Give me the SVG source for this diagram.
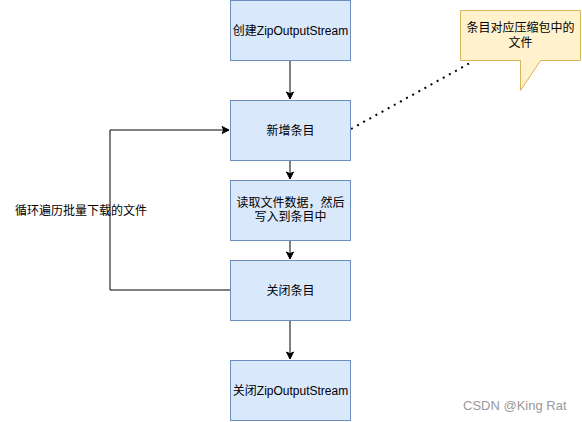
<svg xmlns="http://www.w3.org/2000/svg" width="582" height="422" viewBox="0 0 582 422">
<style>
.box{fill:#dae8fc;stroke:#6c8ebf;stroke-width:1}
.note{fill:#fff2cc;stroke:#d6b656;stroke-width:1}
.t{font-family:"Liberation Sans","Noto Sans CJK SC",sans-serif;font-size:12px;fill:#000;text-anchor:middle}
.lbl{font-family:"Liberation Sans","Noto Sans CJK SC",sans-serif;font-size:12px;fill:#000}
.edge{fill:none;stroke:#000;stroke-width:1}
.wm{font-family:"Liberation Sans","Noto Sans CJK SC",sans-serif;font-size:13px;fill:#999}
</style>
<defs>
<marker id="arr" markerUnits="userSpaceOnUse" markerWidth="10" markerHeight="10" viewBox="-8 -5 10 10" refX="0" refY="0" orient="auto">
<path d="M-7,-3.5 L0,0 L-7,3.5 L-5.25,0 Z" fill="#000" stroke="#000" stroke-width="1"/>
</marker>
</defs>
<rect width="582" height="422" fill="#fff"/>
<g id="connectors">
<path class="edge" d="M290,60 L290,99" marker-end="url(#arr)"/>
<path class="edge" d="M290,160 L290,179" marker-end="url(#arr)"/>
<path class="edge" d="M290,240 L290,259" marker-end="url(#arr)"/>
<path class="edge" d="M290,320 L290,359" marker-end="url(#arr)"/>
<path class="edge" d="M230,290 L110,290 L110,130 L229,130" marker-end="url(#arr)"/>
<path d="M351,129 L470,63" fill="none" stroke="#000" stroke-width="2" stroke-dasharray="2 5"/>
</g>
<g id="loop-label">
<text class="lbl" x="15" y="215">循环遍历批量下载的文件</text>
</g>
<g id="n1">
<rect class="box" x="230.5" y="0.5" width="120" height="60"/>
<text class="t" x="290.5" y="35">创建ZipOutputStream</text>
</g>
<g id="n2">
<rect class="box" x="230.5" y="100.5" width="120" height="60"/>
<text class="t" x="290.5" y="135">新增条目</text>
</g>
<g id="n3">
<rect class="box" x="230.5" y="180.5" width="120" height="60"/>
<text class="t" x="290.5" y="207">读取文件数据，然后</text>
<text class="t" x="290.5" y="221">写入到条目中</text>
</g>
<g id="n4">
<rect class="box" x="230.5" y="260.5" width="120" height="60"/>
<text class="t" x="290.5" y="295">关闭条目</text>
</g>
<g id="n5">
<rect class="box" x="230.5" y="360.5" width="120" height="60"/>
<text class="t" x="290.5" y="395">关闭ZipOutputStream</text>
</g>
<g id="callout">
<path class="note" d="M460.5,10.5 L580.5,10.5 L580.5,60.5 L540.5,60.5 L520.5,90.5 L520.5,60.5 L460.5,60.5 Z"/>
<text class="t" x="520.5" y="32">条目对应压缩包中的</text>
<text class="t" x="520.5" y="47">文件</text>
</g>
<text class="wm" x="463" y="410">CSDN @King Rat</text>
</svg>
